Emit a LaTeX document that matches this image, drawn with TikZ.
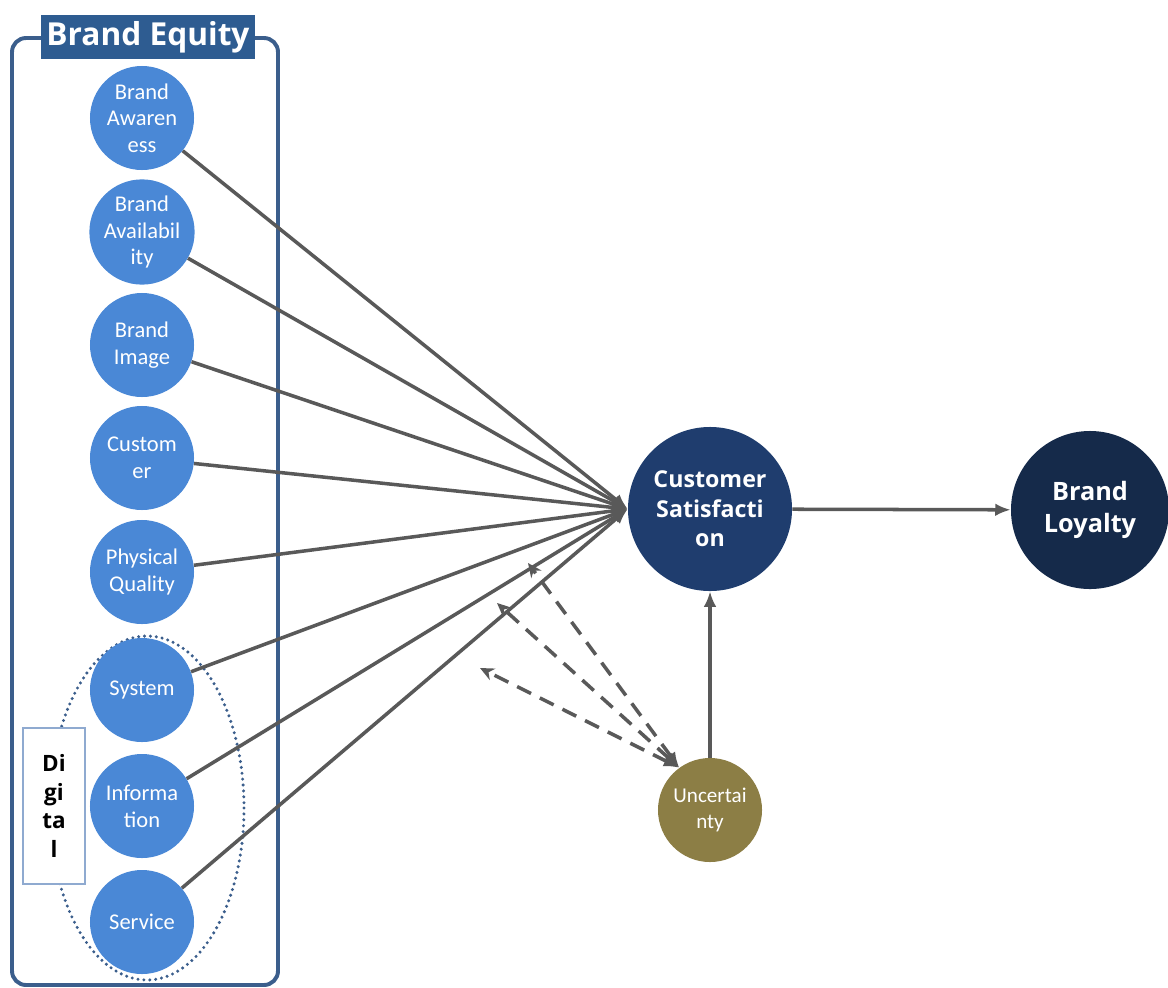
\documentclass[tikz,border=0pt]{standalone}
\usepackage{fontspec}
\setmainfont{Carlito}
\newfontfamily\headfont{Open Sans}
\usetikzlibrary{arrows.meta}

\definecolor{framec}{HTML}{3B5E8C}
\definecolor{titlec}{HTML}{2E5C91}
\definecolor{itemc}{HTML}{4A88D6}
\definecolor{satc}{HTML}{1F3D6E}
\definecolor{loyc}{HTML}{152A4A}
\definecolor{uncc}{HTML}{8C7E45}
\definecolor{linec}{HTML}{595959}
\definecolor{digc}{HTML}{8FAAD0}

\tikzset{
  item/.style={circle,fill=itemc,text=white,minimum size=2.6cm,inner sep=0pt,
    align=center,font=\fontsize{16}{19}\selectfont},
  bigc/.style={circle,text=white,inner sep=0pt,align=center,
    font=\headfont\bfseries\fontsize{16.5}{21}\selectfont},
  path/.style={draw=linec,line width=2.5pt,-{Latex[length=11pt,width=9pt]}},
  modpath/.style={path,dash pattern=on 11pt off 7pt,{Latex[length=11pt,width=9pt]}-{Stealth[length=10pt,width=9pt]}}
}

\begin{document}
\begin{tikzpicture}[x=0.025cm,y=-0.025cm]
  \useasboundingbox (0,0) rectangle (1168,987);

  % brand equity frame
  \draw[framec,line width=2.8pt,rounded corners=10pt] (12,38) rectangle (278,985);
  \node[fill=titlec,text=white,minimum width=5.33cm,minimum height=1.12cm,inner sep=0pt,
    font=\headfont\bfseries\fontsize{22.5}{26}\selectfont] (title) at (148,37) {Brand Equity};

  % digital group
  \draw[framec,line width=2.4pt,line cap=round,dash pattern=on 0pt off 4.2pt]
    (147,808) ellipse [x radius=97,y radius=172];
  \node[draw=digc,fill=white,line width=1.2pt,minimum width=1.55cm,minimum height=3.9cm,
    inner sep=0pt,align=center,font=\headfont\bfseries\fontsize{16}{20.5}\selectfont]
    (dig) at (54,806) {Di\\gi\\ta\\l};

  % equity dimensions
  \node[item] (aware) at (142,118) {Brand\\Awaren\\ess};
  \node[item] (avail) at (142,232) {Brand\\Availabil\\ity};
  \node[item] (image) at (142,345) {Brand\\Image};
  \node[item] (cust) at (142,458) {Custom\\er};
  \node[item] (phys) at (142,572) {Physical\\Quality};
  \node[item] (sys) at (142,690) {System};
  \node[item] (info) at (142,806) {Informa\\tion};
  \node[item] (serv) at (142,922) {Service};

  % outcomes
  \node[bigc,fill=satc,minimum size=4.1cm] (sat) at (710,509) {Customer\\Satisfacti\\on};
  \node[bigc,fill=loyc,minimum size=3.95cm,font=\headfont\bfseries\fontsize{18}{23}\selectfont]
    (loy) at (1090,510) {Brand\\Loyalty};
  \node[item,fill=uncc,font=\fontsize{15}{19}\selectfont] (unc) at (710,810) {Uncertai\\nty};

  \draw[path] (aware) -- (sat.west);
  \draw[path] (avail) -- (sat.west);
  \draw[path] (image) -- (sat.west);
  \draw[path] (cust) -- (sat.west);
  \draw[path] (phys) -- (sat.west);
  \draw[path] (sys) -- (sat.west);
  \draw[path] (info) -- (sat.west);
  \draw[path] (serv) -- (sat.west);
  \draw[path] (sat) -- (loy);
  \draw[path] (unc) -- (sat);

  % moderating effects
  \coordinate (m1) at (528,563);
  \coordinate (m2) at (497,603);
  \coordinate (m3) at (480,668);
  \draw[modpath] (unc.126) -- (m1);
  \draw[modpath] (unc.126) -- (m2);
  \draw[modpath] (unc.126) -- (m3);
\end{tikzpicture}
\end{document}
